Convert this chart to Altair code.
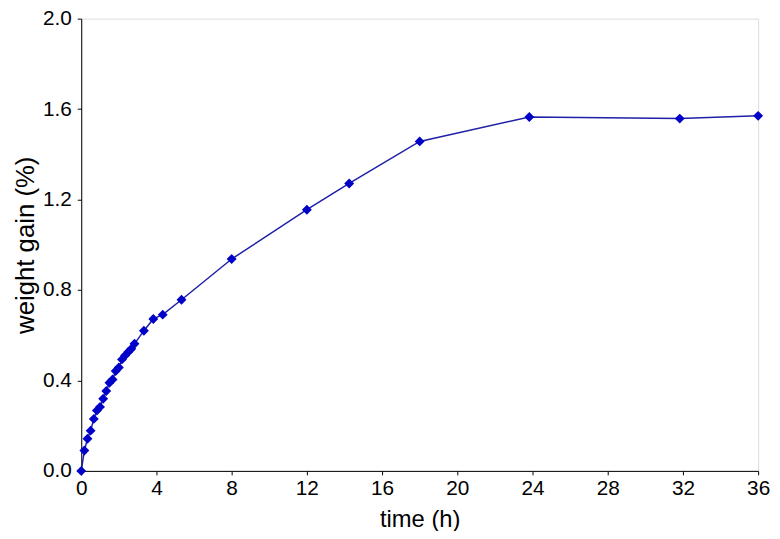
import altair as alt
import pandas as pd

time_h = [0, 0.167, 0.333, 0.5, 0.667, 0.833, 1.0, 1.167, 1.333, 1.5, 1.667,
          1.833, 2.0, 2.167, 2.333, 2.5, 2.667, 2.833, 3.333, 3.833, 4.333,
          5.333, 8, 12, 14.25, 18, 23.83, 31.83, 36]
weight_gain = [0, 0.090, 0.142, 0.178, 0.230, 0.267, 0.283, 0.319, 0.353, 0.390,
               0.404, 0.442, 0.457, 0.493, 0.510, 0.526, 0.540, 0.562, 0.620,
               0.672, 0.691, 0.757, 0.937, 1.155, 1.271, 1.457, 1.565, 1.558, 1.570]
x_ticks = [0, 4, 8, 12, 16, 20, 24, 28, 32, 36]
y_ticks = [0.0, 0.4, 0.8, 1.2, 1.6, 2.0]

df = pd.DataFrame({"t": time_h, "w": weight_gain})

FONT = "Liberation Sans"

x = alt.X("t:Q", scale=alt.Scale(domain=[0, 36], nice=False, zero=False),
          axis=alt.Axis(values=x_ticks, title="time (h)", grid=False,
                        domainColor="black", tickColor="black", tickSize=4,
                        labelFontSize=21, titleFontSize=24, labelColor="black",
                        titleColor="black", labelFont=FONT, titleFont=FONT,
                        titleFontWeight="normal", labelPadding=3, titlePadding=9,
                        labelFlush=False))
y = alt.Y("w:Q", scale=alt.Scale(domain=[0, 2.0], nice=False),
          axis=alt.Axis(values=y_ticks, format=".1f", title="weight gain (%)",
                        grid=False, domainColor="black", tickColor="black",
                        tickSize=4, labelFontSize=21, titleFontSize=26,
                        labelColor="black", titleColor="black", labelFont=FONT,
                        titleFont=FONT, titleFontWeight="normal", labelPadding=6,
                        titlePadding=4, labelFlush=False))

line = alt.Chart(df).mark_line(color="#1f1fa8", strokeWidth=1.5).encode(x=x, y=y)
pts = alt.Chart(df).mark_point(shape="diamond", filled=True, size=100,
                               color="#0000c8", opacity=1).encode(x=x, y=y)

chart = (line + pts).properties(
    width=684, height=457,
    autosize="none",
    padding={"left": 74, "top": 8, "right": 14, "bottom": 58},
).configure_view(stroke=None).configure(background="white")

chart.save("out.html", embed_options={"renderer": "svg", "actions": False})
